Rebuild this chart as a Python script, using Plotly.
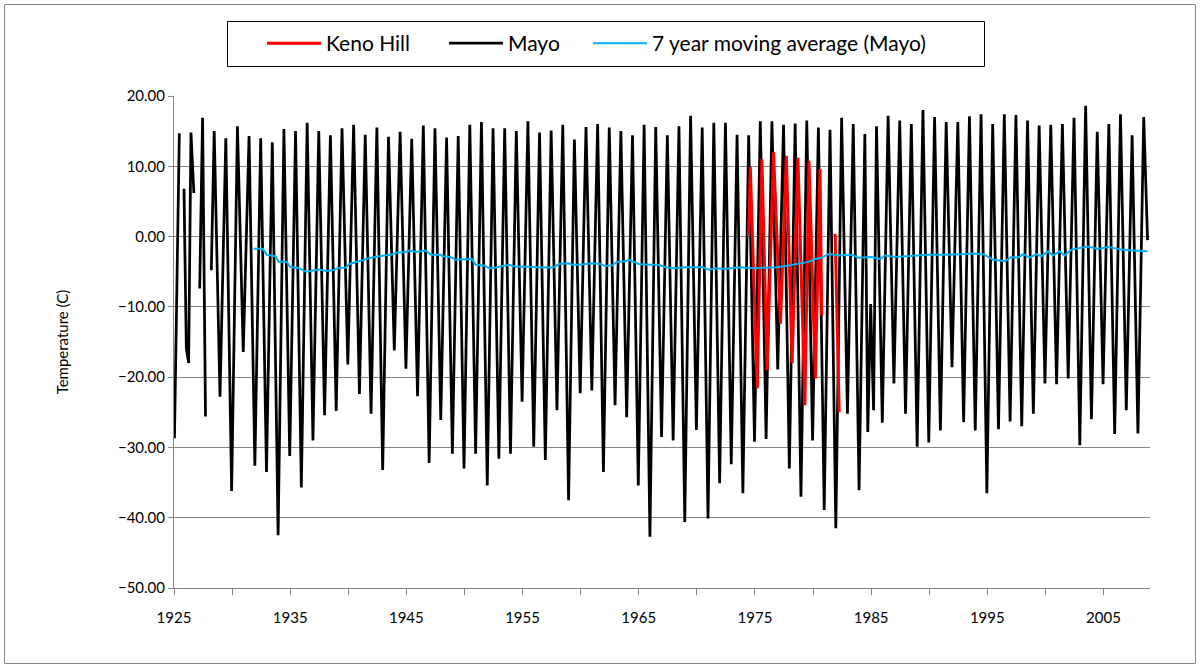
import plotly.graph_objects as go

# ---------------- data ----------------
years = list(range(1925, 2009))  # summers 1925..2008

mayo_summer_max = [
    14.7, 14.8, 16.9, 15.0, 14.0, 15.7, 14.3, 14.0, 13.4, 15.3,
    15.0, 16.2, 15.0, 14.4, 15.4, 15.9, 14.5, 15.5, 14.2, 14.9,
    13.9, 15.8, 15.4, 14.1, 14.3, 15.9, 16.3, 15.4, 15.4, 15.0,
    16.4, 14.8, 15.1, 15.9, 13.8, 15.6, 16.0, 15.5, 15.0, 14.4,
    15.9, 15.6, 14.4, 15.7, 17.2, 15.5, 16.2, 16.2, 14.5, 14.4,
    16.4, 16.4, 15.9, 16.1, 16.5, 15.5, 15.2, 16.9, 16.0, 14.6,
    15.7, 17.2, 16.5, 16.0, 18.0, 17.0, 16.3, 16.3, 17.1, 17.4,
    16.0, 17.4, 17.3, 16.5, 15.8, 15.9, 16.0, 16.9, 18.6, 14.9,
    16.0, 17.4, 14.4, 17.0,
]

# winter following each summer (1925/26 .. 2007/08); tuples = several
# readings in that winter, None = missing months
mayo_winter_min = [
    (None, 6.8, -15.9, -18.0), (6.2, None, -7.4), (-25.6, None, -4.8),
    -22.8, -36.2, -16.4, -32.6, -33.5, -42.5, -31.2,
    -35.7, -29.0, -25.4, -24.8, -18.2, -22.4, -25.2, -33.2, -16.2, -18.8,
    -22.7, -32.2, -26.1, -30.9, -33.0, -30.9, -35.4, -31.6, -30.9, -23.5,
    -29.9, -31.8, -24.7, -37.5, -22.3, -21.9, -33.5, -24.0, -25.7, -35.4,
    -42.7, -28.5, -29.0, -40.6, -27.5, -40.1, -35.1, -32.4, -36.5, -29.2,
    -28.8, -18.9, -33.0, -37.0, -29.0, -38.9, -41.5, -25.2, -36.1,
    (-27.8, -9.6, -24.7),
    -26.5, -20.9, -25.2, -29.9, -29.3, -27.6, -18.6, -26.4, -27.6, -36.5,
    -27.4, -26.3, -27.0, -25.2, -20.9, -21.0, -20.2, -29.7, -26.0, -21.0,
    -28.1, -24.7, -28.0,
]
mayo_first = -28.7   # January 1925
mayo_last = -0.5     # last reading, autumn 2008

keno_t = [1974.45, 1974.6, 1975.2, 1975.6, 1976.05, 1976.6, 1977.2, 1977.7,
          1978.2, 1978.7, 1979.3, 1979.65, 1980.2, 1980.6, 1980.75, None,
          1981.9, 1982.25]
keno_v = [0.0, 9.9, -21.6, 11.0, -19.0, 12.0, -12.4, 11.5,
          -18.0, 11.2, -24.0, 10.8, -20.2, 9.6, -11.2, None,
          0.4, -25.0]

ma_t = [1931.84, 1932.64, 1932.98, 1933.73, 1934.01, 1934.70, 1934.99, 1935.79,
        1936.36, 1937.51, 1938.08, 1938.65, 1939.08, 1939.80, 1940.09, 1940.80,
        1941.37, 1941.95, 1942.52, 1943.09, 1943.67, 1944.10, 1944.96, 1945.24,
        1945.82, 1946.67, 1947.11, 1947.96, 1948.10, 1948.82, 1949.25, 1949.82,
        1950.63, 1950.97, 1951.68, 1952.11, 1952.69, 1953.83, 1954.41, 1955.55,
        1956.69, 1957.70, 1958.13, 1958.99, 1959.27, 1959.85, 1960.99, 1961.71,
        1962.14, 1962.71, 1963.14, 1963.86, 1964.14, 1965.00, 1965.71, 1966.72,
        1967.29, 1968.01, 1969.01, 1970.15, 1970.44, 1971.01, 1971.59, 1972.45,
        1973.59, 1975.03, 1976.17, 1976.88, 1977.89, 1979.03, 1979.60, 1980.18,
        1980.75, 1981.32, 1981.61, 1982.18, 1982.76, 1983.33, 1983.90, 1985.04,
        1985.76, 1986.19, 1987.05, 1987.91, 1989.05, 1989.91, 1991.06, 1992.49,
        1992.78, 1993.64, 1994.64, 1995.50, 1996.50, 1997.07, 1997.65, 1998.08,
        1998.65, 1999.22, 1999.65, 2000.22, 2000.65, 2001.23, 2001.66, 2002.23,
        2003.09, 2003.67, 2004.53, 2005.38, 2006.24, 2006.81, 2007.96, 2008.79]
ma_v = [-1.75, -1.75, -2.6, -2.8, -3.6, -3.6, -4.3, -4.5,
        -5.0, -4.7, -4.9, -4.8, -4.5, -4.4, -3.9, -3.6,
        -3.3, -3.0, -2.8, -2.7, -2.6, -2.3, -2.2, -2.0,
        -2.2, -2.0, -2.6, -2.6, -2.8, -2.9, -3.3, -3.3,
        -3.2, -4.0, -4.1, -4.5, -4.4, -4.0, -4.3, -4.3,
        -4.4, -4.35, -3.9, -3.8, -4.0, -4.0, -3.8, -3.9,
        -4.2, -4.1, -3.6, -3.5, -3.3, -3.9, -4.0, -4.0,
        -4.35, -4.5, -4.35, -4.35, -4.3, -4.7, -4.5, -4.6,
        -4.35, -4.5, -4.35, -4.35, -4.1, -3.8, -3.6, -3.2,
        -3.0, -2.5, -2.5, -2.7, -2.7, -2.6, -3.0, -2.9,
        -3.2, -2.7, -2.9, -2.8, -2.7, -2.6, -2.6, -2.6,
        -2.5, -2.4, -2.5, -3.3, -3.5, -2.9, -3.0, -2.5,
        -3.0, -2.5, -2.8, -2.1, -2.7, -2.1, -2.7, -1.85,
        -1.6, -1.4, -1.75, -1.5, -1.75, -1.9, -2.0, -2.1]

# ---------------- build the Mayo series (time = decimal year) ----------------
mayo_t, mayo_v = [1925.04], [mayo_first]
for i, y in enumerate(years):
    peak_t = y + 0.46
    mayo_t.append(peak_t)
    mayo_v.append(mayo_summer_max[i])
    if i < len(mayo_winter_min):
        w = mayo_winter_min[i]
        if isinstance(w, tuple):
            k = len(w)
            for j, val in enumerate(w):
                mayo_t.append(peak_t + (j + 1) / (k + 1))
                mayo_v.append(val)
        else:
            mayo_t.append(peak_t + 0.5)
            mayo_v.append(w)
mayo_t.append(2008.79)
mayo_v.append(mayo_last)

# ---------------- figure ----------------
W, H = 1200, 668
ML, MR, MT, MB = 174, 50, 96, 80
PW, PH = W - ML - MR, H - MT - MB
FONT = "Lato"
GRID = "#878787"

def px_x(p):
    return (p - ML) / PW

def px_y(p):
    return (H - MB - p) / PH

fig = go.Figure()
fig.add_trace(go.Scatter(x=mayo_t, y=mayo_v, mode="lines", name="Mayo",
                         line=dict(color="#000000", width=2.75),
                         legend="legend2", hoverinfo="skip"))
fig.add_trace(go.Scatter(x=keno_t, y=keno_v, mode="lines", name="Keno Hill",
                         line=dict(color="#FF0000", width=3),
                         legend="legend", hoverinfo="skip"))
fig.add_trace(go.Scatter(x=ma_t, y=ma_v, mode="lines",
                         name="7 year moving average (Mayo)",
                         line=dict(color="#00B0F0", width=2),
                         legend="legend3", hoverinfo="skip"))

leg_common = dict(orientation="h", xanchor="left", yanchor="middle",
                  y=px_y(43.5), bgcolor="rgba(0,0,0,0)", borderwidth=0,
                  font=dict(family=FONT, size=21, color="#000000"),
                  itemwidth=54, visible=True)

fig.update_layout(
    width=W, height=H,
    margin=dict(l=ML, r=MR, t=MT, b=MB),
    paper_bgcolor="white", plot_bgcolor="white",
    font=dict(family=FONT, size=15, color="#000000"),
    showlegend=True,
    legend=dict(x=px_x(262), **leg_common),
    legend2=dict(x=px_x(444), **leg_common),
    legend3=dict(x=px_x(588), **leg_common),
    xaxis=dict(range=[1925, 2009], tick0=1925, dtick=10,
               showgrid=False, zeroline=False, showline=True,
               linecolor=GRID, linewidth=1,
               ticks="outside", ticklen=6, tickcolor=GRID,
               minor=dict(dtick=5, tick0=1925, ticks="outside", ticklen=6,
                          tickcolor=GRID, showgrid=False),
               tickfont=dict(family=FONT, size=15), ticklabelstandoff=10),
    yaxis=dict(range=[-50, 20], dtick=10, tickformat=".2f",
               showgrid=True, gridcolor=GRID, gridwidth=1,
               zeroline=False, showline=True, linecolor=GRID, linewidth=1,
               ticks="outside", ticklen=5, tickcolor=GRID,
               tickfont=dict(family=FONT, size=15),
               title=dict(text="Temperature (C)", standoff=45,
                          font=dict(family=FONT, size=15))),
    shapes=[
        # chart area border
        dict(type="rect", xref="paper", yref="paper",
             x0=px_x(4.5), x1=px_x(1195.5), y0=px_y(663.5), y1=px_y(4.5),
             line=dict(color=GRID, width=1), layer="below"),
        # legend box
        dict(type="rect", xref="paper", yref="paper",
             x0=px_x(227.5), x1=px_x(984.5), y0=px_y(66.5), y1=px_y(21.5),
             line=dict(color="#000000", width=1)),
    ],
)

fig.write_html("out.html")
